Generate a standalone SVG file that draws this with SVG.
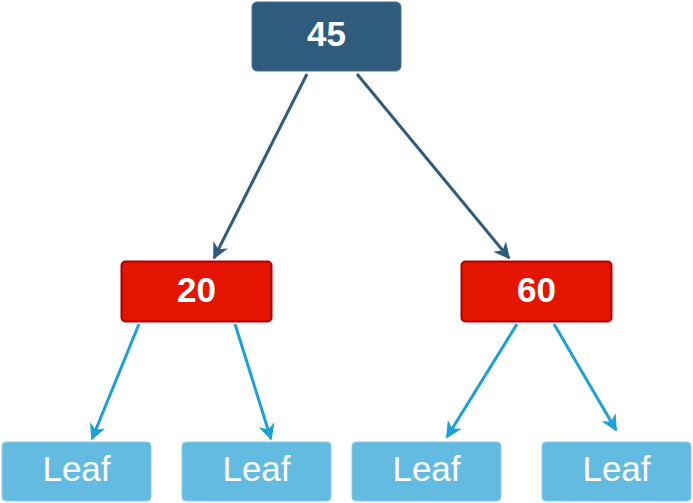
<svg xmlns="http://www.w3.org/2000/svg" width="693" height="503" viewBox="0 0 693 503">
<style>
.dark{fill:#2F5B7C;stroke:#4A7394;stroke-width:1}
.red{fill:#E51400;stroke:#B20000;stroke-width:2}
.leaf{fill:#64BBE2;stroke:#8FCDEA;stroke-width:1}
.t{font-family:"Liberation Sans",Arial,sans-serif;font-size:35px;fill:#FFFFFF;text-anchor:middle}
.b{font-weight:bold}
.e1{stroke:#2F5B7C;stroke-width:3;fill:none}
.e2{stroke:#1BA1D8;stroke-width:3;fill:none}
</style>
<defs>
<marker id="a1" viewBox="0 0 10 10" refX="9" refY="5" markerWidth="5.5" markerHeight="5.5" orient="auto" markerUnits="strokeWidth">
<path d="M0,0 L10,5 L0,10 L3,5 Z" fill="#2F5B7C"/>
</marker>
<marker id="a2" viewBox="0 0 10 10" refX="9" refY="5" markerWidth="5.5" markerHeight="5.5" orient="auto" markerUnits="strokeWidth">
<path d="M0,0 L10,5 L0,10 L3,5 Z" fill="#1BA1D8"/>
</marker>
</defs>
<g id="connectors">
<line class="e1" x1="307" y1="74" x2="214" y2="258" marker-end="url(#a1)"/>
<line class="e1" x1="357" y1="74" x2="509" y2="258" marker-end="url(#a1)"/>
<line class="e2" x1="139" y1="324" x2="92" y2="439" marker-end="url(#a2)"/>
<line class="e2" x1="235" y1="324" x2="271" y2="439" marker-end="url(#a2)"/>
<line class="e2" x1="517" y1="324" x2="447" y2="437" marker-end="url(#a2)"/>
<line class="e2" x1="554" y1="324" x2="616" y2="430" marker-end="url(#a2)"/>
</g>
<g id="n45">
<rect class="dark" x="252" y="2" width="149" height="69" rx="5"/>
<text class="t b" x="326.5" y="46">45</text>
</g>
<g id="n20">
<rect class="red" x="121.5" y="261.5" width="150" height="60" rx="4"/>
<text class="t b" x="196.5" y="302">20</text>
</g>
<g id="n60">
<rect class="red" x="461.5" y="261.5" width="150" height="60" rx="4"/>
<text class="t b" x="536.5" y="302">60</text>
</g>
<g id="leaf1">
<rect class="leaf" x="2" y="442" width="149" height="59" rx="4"/>
<text class="t" x="76.5" y="481">Leaf</text>
</g>
<g id="leaf2">
<rect class="leaf" x="182" y="442" width="149" height="59" rx="4"/>
<text class="t" x="256.5" y="481">Leaf</text>
</g>
<g id="leaf3">
<rect class="leaf" x="352" y="442" width="149" height="59" rx="4"/>
<text class="t" x="426.5" y="481">Leaf</text>
</g>
<g id="leaf4">
<rect class="leaf" x="542" y="442" width="149" height="59" rx="4"/>
<text class="t" x="616.5" y="481">Leaf</text>
</g>
</svg>
